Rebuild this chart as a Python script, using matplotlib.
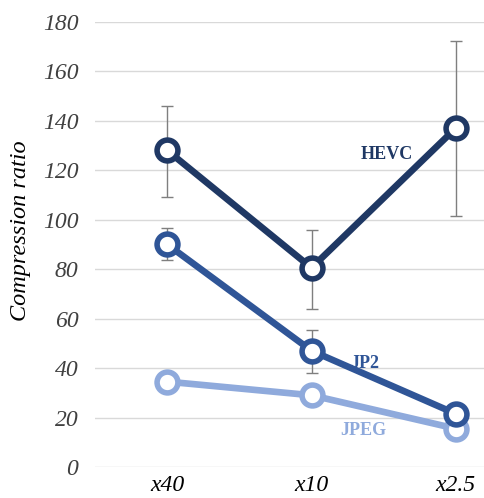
import matplotlib.pyplot as plt

# categories (x axis)
cats = ["x40", "x10", "x2.5"]

# mean compression ratios
hevc = [128, 80.5, 137]
jp2 = [90, 47, 21.5]
jpeg = [34.5, 29, 15.5]

# error bar extents (low, high)
hevc_lo = [109, 64, 101.5]
hevc_hi = [146, 96, 172]
jp2_lo = [83.5, 38, 21.5]
jp2_hi = [96.5, 55.5, 21.5]

ticks = [0, 20, 40, 60, 80, 100, 120, 140, 160, 180]

c_hevc = "#1F3864"
c_jp2 = "#2F5597"
c_jpeg = "#8FAADC"

plt.rcParams['font.family'] = ['Liberation Serif', 'DejaVu Serif']

fig = plt.figure(figsize=(4.84, 4.98), dpi=100)
ax = fig.add_axes([95/484, 1 - 467/498, (528 - 95)/484, (467 - 21.7)/498])

x = list(range(len(cats)))


def errs(mean, lo, hi):
    return [[m - l for m, l in zip(mean, lo)], [h - m for m, h in zip(mean, hi)]]


ax.errorbar(x, hevc, yerr=errs(hevc, hevc_lo, hevc_hi), fmt="none",
            ecolor="#7f7f7f", elinewidth=1, capsize=4, capthick=1, zorder=2)
ax.errorbar(x, jp2, yerr=errs(jp2, jp2_lo, jp2_hi), fmt="none",
            ecolor="#7f7f7f", elinewidth=1, capsize=4, capthick=1, zorder=2)

for vals, col, z in [(jpeg, c_jpeg, 3), (jp2, c_jp2, 4), (hevc, c_hevc, 5)]:
    ax.plot(x, vals, color=col, lw=4.8, marker="o", markersize=15,
            markerfacecolor="white", markeredgecolor=col, markeredgewidth=4, zorder=z)

ax.text(1.524, 126.3, "HEVC", color=c_hevc, fontsize=13, fontweight="bold", ha="center", va="center")
ax.text(1.366, 42, "JP2", color=c_jp2, fontsize=13, fontweight="bold", ha="center", va="center")
ax.text(1.359, 14.6, "JPEG", color=c_jpeg, fontsize=13, fontweight="bold", ha="center", va="center")

ax.set_xlim(-0.5, 2.5)
ax.set_ylim(0, 180)
ax.set_yticks(ticks)
ax.set_xticks(x)
ax.set_xticklabels(cats)
ax.tick_params(length=0, labelsize=17, labelcolor="#404040")
ax.tick_params(axis="y", pad=12)
ax.tick_params(axis="x", pad=6)
for lab in ax.get_xticklabels() + ax.get_yticklabels():
    lab.set_fontstyle("italic")
for lab in ax.get_xticklabels():
    lab.set_color("black")
ax.grid(axis="y", color="#d9d9d9", lw=1)
ax.set_axisbelow(True)
for s in ax.spines.values():
    s.set_visible(False)

fig.text(21/484, 1 - 231/498, "Compression ratio", fontsize=17.5, fontstyle="italic",
         rotation=90, ha="center", va="center")

fig.savefig("out.png", dpi=100)
